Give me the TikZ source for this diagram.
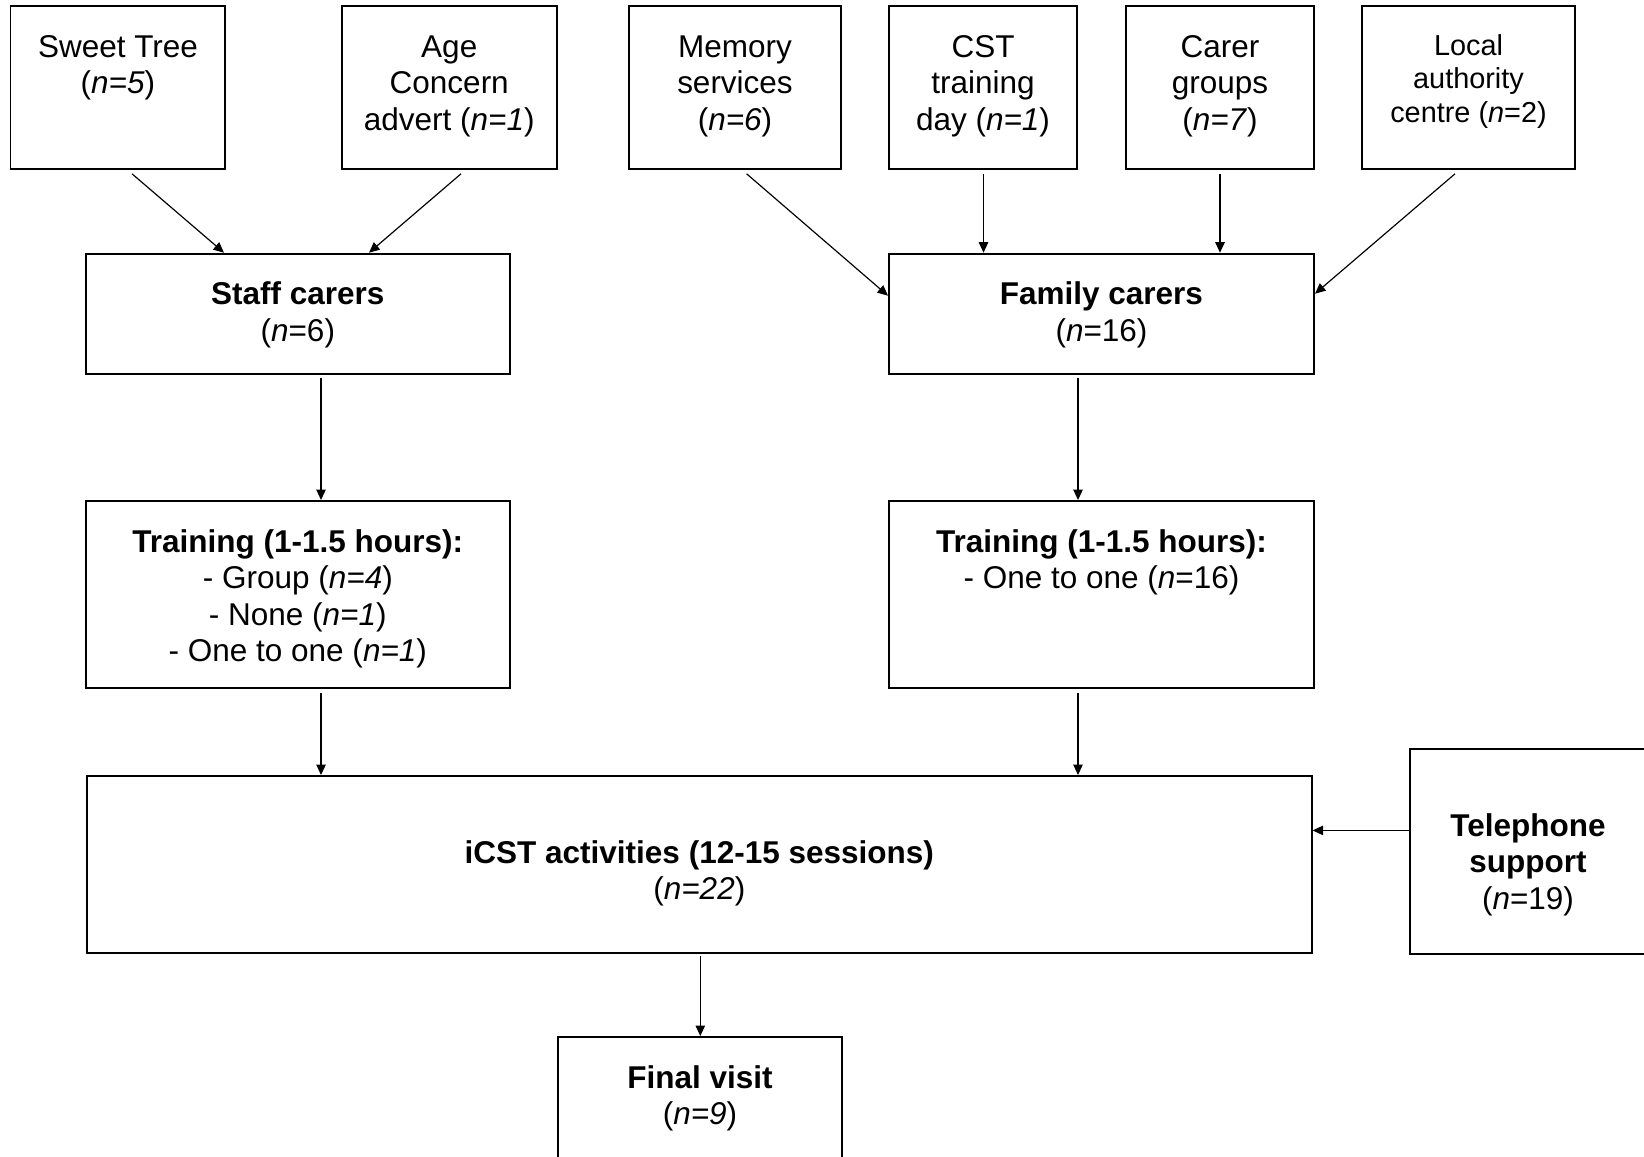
\documentclass[tikz,border=0pt]{standalone}
\usepackage{fontspec}
\setmainfont{Liberation Sans}
\usetikzlibrary{arrows.meta,calc,fit}
\begin{document}
\begin{tikzpicture}[x=0.381pt,y=-0.381pt,
  box/.style={draw=black,line width=0.75pt,inner sep=0pt},
  txt/.style={align=center,inner sep=0pt,anchor=north,font=\fontsize{12}{13.9}\selectfont},
  txtsmall/.style={align=center,inner sep=0pt,anchor=north,font=\fontsize{11}{12.76}\selectfont},
  arr/.style={line width=0.45pt,-{Triangle[length=4pt,width=3.6pt]}}]
\clip (0,0) rectangle (1644,1156);

% recruitment sources
\node[box,fit={(10.5,6.3) (225.4,168.8)}] (st) {};
\node[box,fit={(341.8,6.3) (556.7,168.8)}] (ac) {};
\node[box,fit={(629,6.3) (841,168.8)}] (ms) {};
\node[box,fit={(889,6.3) (1077,168.8)}] (cst) {};
\node[box,fit={(1126,6.3) (1314,168.8)}] (cg) {};
\node[box,fit={(1362,6.3) (1575,168.8)}] (la) {};

\node[txt] (stT) at ($(st.north)+(0,26)$) {\strut Sweet Tree\\(\textit{n=5})};
\node[txt] (acT) at ($(ac.north)+(0,26)$) {\strut Age\\Concern\\advert (\textit{n=1})};
\node[txt] (msT) at ($(ms.north)+(0,26)$) {\strut Memory\\services\\(\textit{n=6})};
\node[txt] (cstT) at ($(cst.north)+(0,26)$) {\strut CST\\training\\day (\textit{n=1})};
\node[txt] (cgT) at ($(cg.north)+(0,26)$) {\strut Carer\\groups\\(\textit{n=7})};
\node[txtsmall] (laT) at ($(la.north)+(0,25.8)$) {\strut Local\\authority\\centre (\textit{n}=2)};

% carer groups
\node[box,fit={(86,253.7) (509.6,374.3)}] (sc) {};
\node[box,fit={(889,253.7) (1314,374.3)}] (fc) {};
\node[txt] (scT) at ($(sc.north)+(0,26)$) {\strut\textbf{Staff carers}\\(\textit{n}=6)};
\node[txt] (fcT) at ($(fc.north)+(0,26)$) {\strut\textbf{Family carers}\\(\textit{n}=16)};

% training
\node[box,fit={(86,501) (509.6,688)}] (tl) {};
\node[box,fit={(889,501) (1314,688)}] (tr) {};
\node[txt] (tlT) at ($(tl.north)+(0,26)$) {\strut\textbf{Training (1-1.5 hours):}\\- Group (\textit{n=4})\\- None (\textit{n=1})\\- One to one (\textit{n=1})};
\node[txt] (trT) at ($(tr.north)+(0,26)$) {\strut\textbf{Training (1-1.5 hours):}\\- One to one (\textit{n}=16)};

% activities, support and final visit
\node[box,fit={(87,776) (1311.6,953)}] (icst) {};
\node[box,fit={(1410,748.6) (1646,954)}] (tel) {};
\node[box,fit={(558,1037) (842,1180)}] (fin) {};
\node[txt] (icstT) at ($(icst.north)+(0,62)$) {\strut\textbf{iCST activities (12-15 sessions)}\\(\textit{n=22})};
\node[txt] (telT) at ($(tel.north)+(0,62.4)$) {\strut\textbf{Telephone}\\\textbf{support}\\(\textit{n}=19)};
\node[txt] (finT) at ($(fin.north)+(0,26)$) {\strut\textbf{Final visit}\\(\textit{n=9})};

% connectors
\draw[arr] ($(st.south west)+(122.5,4)$) -- ($(sc.north west)+(139,0)$);
\draw[arr] ($(ac.south west)+(120.2,4)$) -- ($(sc.north west)+(284,0)$);
\draw[arr] ($(ms.south west)+(118.6,4)$) -- ($(fc.north west)+(0,43)$);
\draw[arr] ($(cst.south)+(0.5,4)$) coordinate (cstA) -- (cstA |- fc.north);
\draw[arr] ($(cg.south)+(0,4)$) coordinate (cgA) -- (cgA |- fc.north);
\draw[arr] ($(la.south west)+(94,4)$) -- ($(fc.north east)+(0,41)$);
\draw[arr] ($(sc.south west)+(236,3)$) coordinate (scA) -- (scA |- tl.north);
\draw[arr] ($(fc.south west)+(190,3)$) coordinate (fcA) -- (fcA |- tr.north);
\draw[arr] ($(tl.south west)+(236,4)$) coordinate (tlA) -- (tlA |- icst.north);
\draw[arr] ($(tr.south west)+(190,4)$) coordinate (trA) -- (trA |- icst.north);
\draw[arr] ($(tel.north west)+(0,82.8)$) coordinate (telA) -- (telA -| icst.east);
\draw[arr] ($(icst.south)+(1,2)$) coordinate (icstA) -- (icstA |- fin.north);
\end{tikzpicture}
\end{document}
